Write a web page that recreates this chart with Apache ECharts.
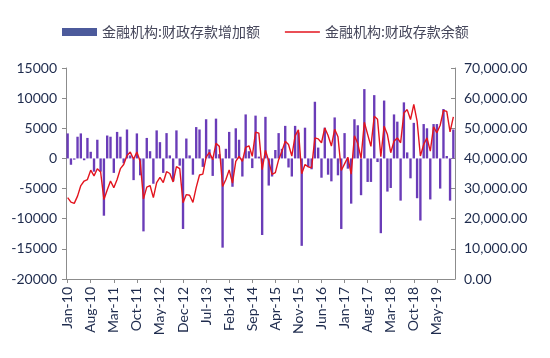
<!DOCTYPE html>
<html>
<head>
<meta charset="utf-8">
<script src="https://cdn.jsdelivr.net/npm/echarts@6/dist/echarts.min.js"></script>
<style>
html,body{margin:0;padding:0;background:#fff;}
#chart{width:550px;height:358px;}
</style>
</head>
<body>
<div id="chart"></div>
<script>
const categories = [
 'Jan-10','Feb-10','Mar-10','Apr-10','May-10','Jun-10','Jul-10','Aug-10','Sep-10','Oct-10','Nov-10','Dec-10',
 'Jan-11','Feb-11','Mar-11','Apr-11','May-11','Jun-11','Jul-11','Aug-11','Sep-11','Oct-11','Nov-11','Dec-11',
 'Jan-12','Feb-12','Mar-12','Apr-12','May-12','Jun-12','Jul-12','Aug-12','Sep-12','Oct-12','Nov-12','Dec-12',
 'Jan-13','Feb-13','Mar-13','Apr-13','May-13','Jun-13','Jul-13','Aug-13','Sep-13','Oct-13','Nov-13','Dec-13',
 'Jan-14','Feb-14','Mar-14','Apr-14','May-14','Jun-14','Jul-14','Aug-14','Sep-14','Oct-14','Nov-14','Dec-14',
 'Jan-15','Feb-15','Mar-15','Apr-15','May-15','Jun-15','Jul-15','Aug-15','Sep-15','Oct-15','Nov-15','Dec-15',
 'Jan-16','Feb-16','Mar-16','Apr-16','May-16','Jun-16','Jul-16','Aug-16','Sep-16','Oct-16','Nov-16','Dec-16',
 'Jan-17','Feb-17','Mar-17','Apr-17','May-17','Jun-17','Jul-17','Aug-17','Sep-17','Oct-17','Nov-17','Dec-17',
 'Jan-18','Feb-18','Mar-18','Apr-18','May-18','Jun-18','Jul-18','Aug-18','Sep-18','Oct-18','Nov-18','Dec-18',
 'Jan-19','Feb-19','Mar-19','Apr-19','May-19','Jun-19','Jul-19','Aug-19','Sep-19','Oct-19'
];

// 金融机构:财政存款增加额 (left axis), by year
const chg2010 = [4150, -1050, -200, 3600, 4150, -300, 3400, 1100, -2200, 3100, -2200, -9500];
const chg2011 = [3800, 3600, -2400, 4400, 3600, -800, 4800, 500, -3600, 4150, -2800, -12100];
const chg2012 = [3400, 1200, -4200, 4650, 2700, -2400, 4200, 500, -3800, 4650, -1200, -11700];
const chg2013 = [3300, 500, -2700, 5200, 4800, -1400, 6500, 1500, -2900, 6600, 700, -14800];
const chg2014 = [1600, 4400, -4700, 5000, 3100, -3000, 7300, 1200, -1600, 7100, 300, -12700];
const chg2015 = [6900, -4500, -3000, 1400, 4200, 1600, 5400, -1500, -3000, 5400, 4300, -14500];
const chg2016 = [5100, -1400, -1800, 9400, 1800, -3200, 5100, -2700, -3800, 6800, -2800, -11700];
const chg2017 = [4200, -1700, -7500, 6500, 5500, -6100, 11500, -3900, -3900, 10500, -600, -12400];
const chg2018 = [9600, -5500, -4900, 7300, 6100, -7000, 9300, 1000, -3300, 5900, -6600, -10300];
const chg2019 = [5700, 5000, -6800, 5700, 5700, -5000, 8200, 400, -7000, 4800];

// 金融机构:财政存款余额 (right axis), by year
const bal2010 = [27000, 25500, 25100, 27500, 31000, 32500, 33000, 36100, 34200, 36600, 35500, 26400];
const bal2011 = [29500, 32500, 30300, 33000, 36600, 38000, 41000, 42100, 39700, 42100, 39000, 26600];
const bal2012 = [30500, 31000, 27000, 32000, 33700, 32000, 35600, 35000, 32200, 37300, 36600, 25300];
const bal2013 = [28000, 27800, 25400, 30400, 34500, 34800, 40400, 42000, 39600, 45000, 44000, 30700];
const bal2014 = [33000, 36200, 31800, 39000, 40700, 39000, 43700, 44200, 40700, 48700, 48400, 36300];
const bal2015 = [42700, 39100, 34700, 35300, 39600, 42400, 45700, 44600, 40800, 47500, 49500, 34900];
const bal2016 = [38000, 37200, 36900, 46800, 46500, 45200, 50100, 47600, 44100, 49700, 47200, 36000];
const bal2017 = [38200, 40400, 34800, 47500, 45000, 40000, 52000, 48000, 44000, 54000, 53000, 40600];
const bal2018 = [50700, 47900, 41900, 45700, 46800, 45200, 55100, 56200, 52900, 57900, 52400, 40800];
const bal2019 = [44600, 46800, 42400, 50500, 48500, 51000, 55900, 55600, 48800, 53800];

const leftTicks = [-20000, 15000, 5000];   // min, max, interval
const rightTicks = [0, 70000, 10000];

const changeData = [].concat(chg2010, chg2011, chg2012, chg2013, chg2014, chg2015, chg2016, chg2017, chg2018, chg2019);
const balanceData = [].concat(bal2010, bal2011, bal2012, bal2013, bal2014, bal2015, bal2016, bal2017, bal2018, bal2019);

const labelFont = 'Lato, "Liberation Sans", sans-serif';
const labelColor = '#1e2b4d';
const axisColor = '#8c8c8c';

const chart = echarts.init(document.getElementById('chart'), null, {renderer: 'canvas'});
chart.setOption({
  animation: false,
  backgroundColor: '#ffffff',
  legend: {
    left: 57,
    top: 20,
    itemWidth: 35,
    itemHeight: 8,
    itemGap: 25,
    symbolKeepAspect: true,
    textStyle: {fontFamily: '"Noto Sans CJK SC", sans-serif', fontSize: 14, color: '#45465a'},
    data: [
      {name: '金融机构:财政存款增加额', icon: 'rect', itemStyle: {color: '#4c5a9b'}},
      {name: '金融机构:财政存款余额', icon: 'path://M0,0 L32,0 L32,1.5 L0,1.5 Z', itemStyle: {color: '#e3141e'}}
    ]
  },
  grid: {left: 66, right: 95, top: 68, bottom: 79},
  xAxis: {
    type: 'category',
    data: categories,
    boundaryGap: true,
    axisLine: {onZero: false, lineStyle: {color: axisColor, width: 1}},
    axisTick: {show: true, interval: 6, alignWithLabel: true, length: 4, lineStyle: {color: axisColor}},
    axisLabel: {interval: 6, rotate: 90, margin: 8, fontFamily: labelFont, fontSize: 14, color: labelColor},
    splitLine: {show: false}
  },
  yAxis: [
    {
      type: 'value',
      min: leftTicks[0], max: leftTicks[1], interval: leftTicks[2],
      axisLine: {show: true, lineStyle: {color: axisColor}},
      axisTick: {show: true, length: 4, lineStyle: {color: axisColor}},
      axisLabel: {
        margin: 9, fontFamily: labelFont, fontSize: 14, color: labelColor,
        formatter: function (v) { return String(v); }
      },
      splitLine: {show: false}
    },
    {
      type: 'value',
      min: rightTicks[0], max: rightTicks[1], interval: rightTicks[2],
      position: 'right',
      axisLine: {show: true, lineStyle: {color: axisColor}},
      axisTick: {show: true, inside: true, length: 4, lineStyle: {color: axisColor}},
      axisLabel: {
        margin: 9, fontFamily: labelFont, fontSize: 14, color: labelColor,
        formatter: function (v) {
          return v.toLocaleString('en-US', {minimumFractionDigits: 2, maximumFractionDigits: 2});
        }
      },
      splitLine: {show: false}
    }
  ],
  series: [
    {
      name: '金融机构:财政存款增加额',
      type: 'bar',
      yAxisIndex: 0,
      data: changeData,
      barWidth: '72%',
      itemStyle: {color: '#6a3cb8'}
    },
    {
      name: '金融机构:财政存款余额',
      type: 'line',
      yAxisIndex: 1,
      data: balanceData,
      symbol: 'none',
      lineStyle: {color: '#e3141e', width: 1.4},
      itemStyle: {color: '#e3141e'},
      z: 5
    }
  ]
});
</script>
</body>
</html>
